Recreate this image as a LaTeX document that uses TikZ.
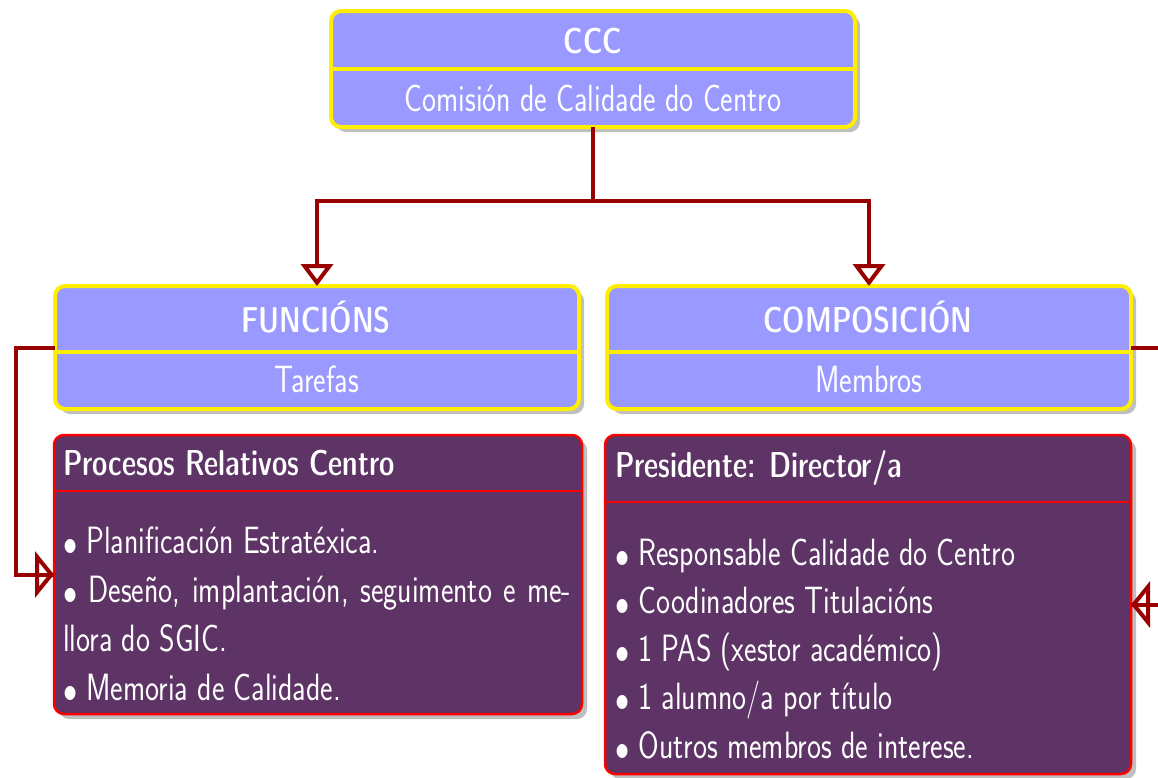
\documentclass[tikz,border=0pt]{standalone}
\usetikzlibrary{arrows.meta,shadows}
\definecolor{blu}{RGB}{153,153,255}
\definecolor{yel}{RGB}{255,238,0}
\definecolor{pur}{RGB}{93,52,101}
\definecolor{brd}{RGB}{250,0,0}
\definecolor{arr}{RGB}{153,0,0}
\newcommand\sq[1]{\scalebox{0.784}[1]{#1}}
\newcommand\sqt[1]{\scalebox{0.89}[1]{#1}}
\newcommand\bul{\raisebox{-2pt}{\scalebox{1.45}{$\bullet$}}}
\begin{document}
\begin{tikzpicture}[x=1pt,y=-1pt,
  every node/.style={inner sep=0pt,outer sep=0pt},
  txt/.style={text=white,font=\sffamily\fontsize{38}{49}\selectfont},
  ttl/.style={text=white,font=\sffamily\fontseries{sbc}\fontsize{36}{49}\selectfont},
  shad/.style={drop shadow={shadow xshift=5pt,shadow yshift=-5pt,fill=black!25,opacity=1}},
  yblk/.style={draw=yel,line width=4pt,fill=blu,rounded corners=10pt,shad},
  pblk/.style={draw=brd,line width=2.5pt,fill=pur,rounded corners=10pt,shad},
  ydiv/.style={draw=yel,line width=4pt},
  pdiv/.style={draw=brd,line width=2.5pt},
  conn/.style={draw=arr,line width=4pt},
  dtri/.style={-{Triangle[open,width=32pt,length=22pt]}},
  htri/.style={-{Triangle[open,width=46pt,length=19pt]}}]
\clip (0,0) rectangle (1158,777);
\fill[white] (0,0) rectangle (1158,777);
% blocks
\node[yblk,minimum width=524pt,minimum height=116pt] (ccc) at (593,69) {};
\node[yblk,minimum width=524pt,minimum height=123pt] (fun) at (317,347.5) {};
\node[yblk,minimum width=524pt,minimum height=123pt] (comp) at (869,347.5) {};
\node[pblk,minimum width=528pt,minimum height=279pt] (purL) at (318,574.5) {};
\node[pblk,minimum width=526pt,minimum height=339pt] (purR) at (868,604.5) {};
% dividers
\coordinate (d1) at (0,69);
\coordinate (d2) at (0,352);
\coordinate (d3) at (0,491);
\coordinate (d4) at (0,502);
\draw[ydiv] (ccc.west |- d1) -- (ccc.east |- d1);
\draw[ydiv] (fun.west |- d2) -- (fun.east |- d2);
\draw[ydiv] (comp.west |- d2) -- (comp.east |- d2);
\draw[pdiv] (purL.west |- d3) -- (purL.east |- d3);
\draw[pdiv] (purR.west |- d4) -- (purR.east |- d4);
% texts
\node[ttl,anchor=base] (tccc) at (593,53) {\sqt{CCC}};
\node[txt,anchor=base] (bccc) at (593,111) {\sq{Comisión de Calidade do Centro}};
\node[ttl,anchor=base] (tfun) at (316,332) {\sqt{FUNCIÓNS}};
\node[txt,anchor=base] (bfun) at (317,392) {\sq{Tarefas}};
\node[ttl,anchor=base] (tcomp) at (868,332) {\sqt{COMPOSICIÓN}};
\node[txt,anchor=base] (bcomp) at (869,392) {\sq{Membros}};
\node[ttl,anchor=base west] (tpl) at (63,475) {\sqt{Procesos Relativos Centro}};
\node[txt,anchor=base west] (bpl) at (63,553) {\sq{\parbox[t]{648pt}{%
\bul\ Planificación Estratéxica.\\
\bul\ Deseño, implantación, seguimento e me-\linebreak
llora do SGIC.\\
\bul\ Memoria de Calidade.}}};
\node[ttl,anchor=base west] (tpr) at (615,477) {\sqt{Presidente: Director/a}};
\node[txt,anchor=base west] (bpr) at (615,565) {\sq{\parbox[t]{648pt}{\fontsize{38}{48.3}\selectfont
\bul\ Responsable Calidade do Centro\\
\bul\ Coodinadores Titulacións\\
\bul\ 1 PAS (xestor académico)\\
\bul\ 1 alumno/a por título\\
\bul\ Outros membros de interese.}}};
% connectors
\coordinate (h) at (0,201);
\draw[conn,dtri] (ccc.south) |- (fun.north |- h) -- (fun.north);
\draw[conn,dtri] (ccc.south) |- (comp.north |- h) -- (comp.north);
\draw[conn] (fun.west) -- ++(-39,0) coordinate (lc) |- (purL.west);
\draw[conn,htri] (lc) |- (purL.west);
\draw[conn] (comp.east) -- ++(45,0) coordinate (rc) |- (purR.east);
\draw[conn,htri] (rc) |- (purR.east);
\end{tikzpicture}
\end{document}
